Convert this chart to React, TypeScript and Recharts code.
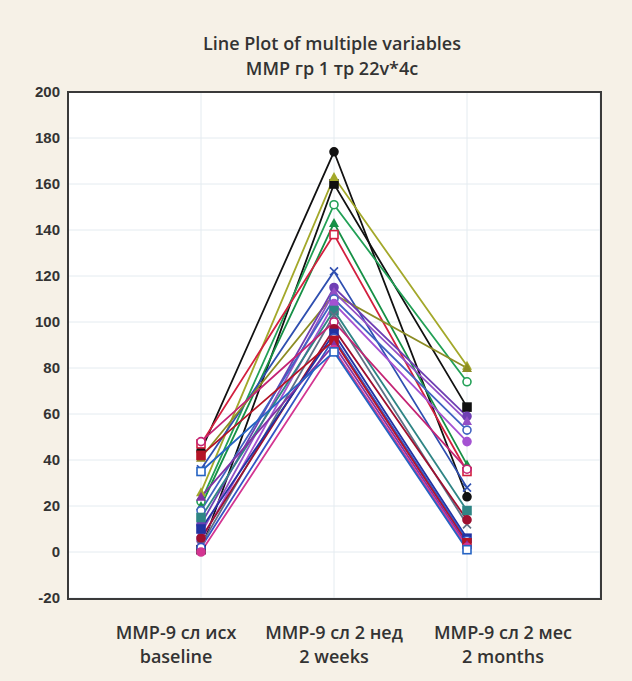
import { LineChart, Line, XAxis, YAxis, CartesianGrid } from 'recharts'

const catTop = ['MMP-9 сл исх', 'MMP-9 сл 2 нед', 'MMP-9 сл 2 мес']
const catBottom = ['baseline', '2 weeks', '2 months']
const yTicks = [-20, 0, 20, 40, 60, 80, 100, 120, 140, 160, 180, 200]

// one value per case (22 cases) at each time point
const baseline = [44, 1, 26, 22, 20, 47, 36, 41, 12, 8, 18, 5, 15, 3, 48, 6, 10, 2, 42, 24, 0, 35]
const weeks = [174, 160, 163, 151, 143, 138, 122, 112, 115, 113, 110, 108, 105, 103, 100, 97, 95, 93, 92, 90, 88, 87]
const months = [24, 63, 81, 74, 38, 35, 28, 80, 59, 57, 53, 48, 18, 12, 36, 14, 6, 5, 4, 3, 2, 1]

const colors = [
    '#111111', '#111111', '#a3a82a', '#22a056', '#169046', '#d3203f', '#2f4fb0', '#8c8c24',
    '#6f3fb3', '#9350c6', '#4163c2', '#a452d2', '#2f8585', '#5f7085', '#c42474', '#9e1030',
    '#2233a2', '#3355c4', '#b41426', '#8232a4', '#d33592', '#2563c3'
]
const shapes = [
    'circle', 'square', 'triangle', 'ocircle', 'triangle', 'osquare', 'cross', 'triangle',
    'circle', 'triangle', 'ocircle', 'circle', 'square', 'cross', 'ocircle', 'circle',
    'square', 'ocircle', 'square', 'triangle', 'circle', 'osquare'
]

const data = catTop.map((c, i) => {
    const row: any = { x: i + 1 }
    const col = [baseline, weeks, months][i]
    col.forEach((v, k) => { row['s' + k] = v })
    return row
})

function makeDot(color: string, shape: string, name: string) {
    return (props: any) => {
        const { cx, cy, index } = props
        const key = `${name}-${index}`
        if (cx == null || cy == null) return <g key={key} />
        const r = 4
        if (shape === 'square' || shape === 'osquare') {
            return <rect key={key} x={cx - r} y={cy - r} width={r * 2} height={r * 2}
                fill={shape === 'square' ? color : '#fff'} stroke={color} strokeWidth={1.6} />
        }
        if (shape === 'triangle') {
            return <path key={key} d={`M${cx},${cy - r - 1}L${cx + r + 1},${cy + r}L${cx - r - 1},${cy + r}Z`} fill={color} />
        }
        if (shape === 'cross') {
            return <path key={key} d={`M${cx - r},${cy - r}L${cx + r},${cy + r}M${cx + r},${cy - r}L${cx - r},${cy + r}`} stroke={color} strokeWidth={1.6} />
        }
        return <circle key={key} cx={cx} cy={cy} r={r}
            fill={shape === 'circle' ? color : '#fff'} stroke={color} strokeWidth={1.6} />
    }
}

// the labels in the original sit a bit spread out from the category positions
const labelShift = [-25, 0, 36]

function XTick(props: any) {
    const { x, y, payload } = props
    const i = payload.value - 1
    const lx = x + labelShift[i]
    return (
        <g>
            <text x={lx} y={y + 33} textAnchor="middle" fontFamily="Open Sans" fontWeight={600} fontSize={18} fill="#333">{catTop[i]}</text>
            <text x={lx} y={y + 57} textAnchor="middle" fontFamily="Open Sans" fontWeight={600} fontSize={18} fill="#333">{catBottom[i]}</text>
        </g>
    )
}

export default function App() {
    return (
        <div style={{ position: 'absolute', left: 0, top: 0, width: 632, height: 681, background: '#f6f1e7' }}>
            <div style={{
                position: 'absolute', left: 0, top: 31, width: 664, textAlign: 'center',
                fontFamily: 'Open Sans', fontWeight: 600, fontSize: 18, lineHeight: '25px', color: '#333'
            }}>
                <div>Line Plot of multiple variables</div>
                <div>MMP гр 1 тр 22v*4c</div>
            </div>
            <LineChart width={632} height={681} data={data}
                margin={{ top: 92, right: 32, left: 0, bottom: 23 }}>
                <CartesianGrid stroke="#e4ebf0" fill="#ffffff" />
                <XAxis dataKey="x" type="number" domain={[0, 4]} ticks={[1, 2, 3]}
                    axisLine={false} tickLine={false} height={60} tick={<XTick />} interval={0} />
                <YAxis type="number" domain={[-20, 200]} ticks={yTicks} width={68}
                    axisLine={false} tickLine={false} interval={0}
                    tick={{ fontFamily: 'Liberation Sans', fontWeight: 'bold', fontSize: 15, fill: '#333' }} />
                {baseline.map((_, k) => (
                    <Line key={k} dataKey={'s' + k} stroke={colors[k]} strokeWidth={1.8}
                        dot={makeDot(colors[k], shapes[k], 's' + k)} isAnimationActive={false} />
                ))}
            </LineChart>
            <div style={{
                position: 'absolute', left: 67, top: 91, width: 531, height: 505,
                border: '2px solid #3a3a3a', pointerEvents: 'none'
            }} />
        </div>
    )
}
